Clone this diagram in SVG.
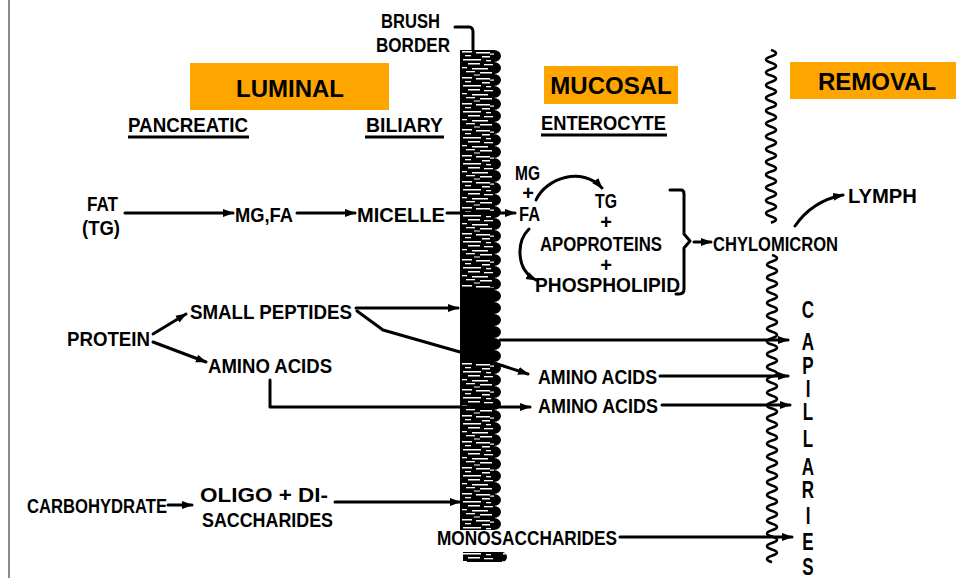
<svg xmlns="http://www.w3.org/2000/svg" width="956" height="578" viewBox="0 0 956 578">
<style>
.t{font-family:"Liberation Sans",Arial,sans-serif;font-weight:bold;font-size:20px;fill:#000}
.h{font-family:"Liberation Sans",Arial,sans-serif;font-weight:bold;font-size:24px;fill:#000;text-anchor:middle}
.c{font-family:"Liberation Sans",Arial,sans-serif;font-weight:bold;font-size:23px;fill:#000;text-anchor:middle}
.ln{fill:none;stroke:#000;stroke-width:3;stroke-linecap:round;stroke-linejoin:round}
.la{fill:none;stroke:#000;stroke-width:3;stroke-linecap:round;stroke-linejoin:round;marker-end:url(#ah)}
.ul{stroke:#000;stroke-width:3}
.box{fill:#FFA500}
.wave{fill:none;stroke:#000;stroke-width:2.6}
.w{fill:#fff}
</style>
<defs>
<marker id="ah" markerUnits="userSpaceOnUse" markerWidth="12" markerHeight="9" refX="10" refY="4.5" orient="auto">
<path d="M0,0.5 L11,4.5 L0,8.5 Z" fill="#000"/>
</marker>
<pattern id="tex" patternUnits="userSpaceOnUse" x="460" y="50" width="40" height="26">
<rect class="w" x="2" y="1" width="10" height="1.5"/>
<rect class="w" x="16" y="2" width="14" height="1.5"/>
<rect class="w" x="30" y="3.5" width="4" height="1.2"/>
<rect class="w" x="5" y="5" width="6" height="1.3"/>
<rect class="w" x="22" y="6" width="8" height="1.5"/>
<rect class="w" x="3" y="9" width="18" height="1.5"/>
<rect class="w" x="26" y="10" width="5" height="1.3"/>
<rect class="w" x="8" y="13" width="12" height="1.5"/>
<rect class="w" x="24" y="14" width="9" height="1.3"/>
<rect class="w" x="2" y="17" width="5" height="1.3"/>
<rect class="w" x="12" y="18" width="16" height="1.5"/>
<rect class="w" x="6" y="21" width="9" height="1.3"/>
<rect class="w" x="20" y="22" width="12" height="1.5"/>
<rect class="w" x="14" y="24.5" width="6" height="1"/>
</pattern>
<path id="col" d="M460,50 H494 a7 6 0 0 1 0 12 a7 6 0 0 1 0 12 a7 6 0 0 1 0 12 a7 6 0 0 1 0 12 a7 6 0 0 1 0 12 a7 6 0 0 1 0 12 a7 6 0 0 1 0 12 a7 6 0 0 1 0 12 a7 6 0 0 1 0 12 a7 6 0 0 1 0 12 a7 6 0 0 1 0 12 a7 6 0 0 1 0 12 a7 6 0 0 1 0 12 a7 6 0 0 1 0 12 a7 6 0 0 1 0 12 a7 6 0 0 1 0 12 a7 6 0 0 1 0 12 a7 6 0 0 1 0 12 a7 6 0 0 1 0 12 a7 6 0 0 1 0 12 a7 6 0 0 1 0 12 a7 6 0 0 1 0 12 a7 6 0 0 1 0 12 a7 6 0 0 1 0 12 a7 6 0 0 1 0 12 a7 6 0 0 1 0 12 a7 6 0 0 1 0 12 a7 6 0 0 1 0 12 a7 6 0 0 1 0 12 a7 6 0 0 1 0 12 a7 6 0 0 1 0 12 a7 6 0 0 1 0 12 a7 6 0 0 1 0 12 a7 6 0 0 1 0 12 a7 6 0 0 1 0 12 a7 6 0 0 1 0 12 a7 6 0 0 1 0 12 a7 6 0 0 1 0 12 a7 6 0 0 1 0 12 a7 6 0 0 1 0 12 H460 Z M463,552 H502 a5 5 0 0 1 0 10 H463 Z"/>
</defs>
<rect width="956" height="578" fill="#fff"/>
<line x1="9" y1="0" x2="9" y2="578" stroke="#666" stroke-width="1.5"/>

<g id="brush-border">
<use href="#col" fill="#000"/>
<use href="#col" fill="url(#tex)"/>
<rect x="460" y="288" width="34" height="74" fill="#000"/>
<path class="ln" d="M455,27 H469 Q473,27 473,32 V50"/>
<text class="t" x="381" y="28" textLength="59" lengthAdjust="spacingAndGlyphs">BRUSH</text>
<text class="t" x="376" y="52" textLength="74" lengthAdjust="spacingAndGlyphs">BORDER</text>
</g>

<g id="capillary-wall">
<path class="wave" d="M771,50 q10 3.2 0 6.4 t0 6.4 t0 6.4 t0 6.4 t0 6.4 t0 6.4 t0 6.4 t0 6.4 t0 6.4 t0 6.4 t0 6.4 t0 6.4 t0 6.4 t0 6.4 t0 6.4 t0 6.4 t0 6.4 t0 6.4 t0 6.4 t0 6.4 t0 6.4 t0 6.4 t0 6.4 t0 6.4 t0 6.4 t0 6.4 t0 6.4"/>
<path class="wave" d="M772,255 q10 3.2 0 6.4 t0 6.4 t0 6.4 t0 6.4 t0 6.4 t0 6.4 t0 6.4 t0 6.4 t0 6.4 t0 6.4 t0 6.4 t0 6.4 t0 6.4 t0 6.4 t0 6.4 t0 6.4 t0 6.4 t0 6.4 t0 6.4 t0 6.4 t0 6.4 t0 6.4 t0 6.4 t0 6.4 t0 6.4 t0 6.4 t0 6.4 t0 6.4 t0 6.4 t0 6.4 t0 6.4 t0 6.4 t0 6.4 t0 6.4 t0 6.4 t0 6.4 t0 6.4 t0 6.4 t0 6.4 t0 6.4 t0 6.4 t0 6.4 t0 6.4 t0 6.4 t0 6.4 t0 6.4 t0 6.4 t0 6.4"/>
</g>

<g id="headers">
<rect class="box" x="190" y="63" width="199" height="47"/>
<text class="h" x="290" y="97">LUMINAL</text>
<rect class="box" x="544" y="66" width="134" height="38"/>
<text class="h" x="611" y="94">MUCOSAL</text>
<rect class="box" x="790" y="62" width="166" height="37"/>
<text class="h" x="877" y="90">REMOVAL</text>
<text class="t" x="128" y="132" textLength="120" lengthAdjust="spacingAndGlyphs">PANCREATIC</text>
<line class="ul" x1="128" y1="137" x2="249" y2="137"/>
<text class="t" x="366" y="132" textLength="77" lengthAdjust="spacingAndGlyphs">BILIARY</text>
<line class="ul" x1="365" y1="137" x2="444" y2="137"/>
<text class="t" x="541" y="130" textLength="125" lengthAdjust="spacingAndGlyphs">ENTEROCYTE</text>
<line class="ul" x1="541" y1="135" x2="667" y2="135"/>
</g>

<g id="fat">
<text class="t" x="87" y="211" textLength="31" lengthAdjust="spacingAndGlyphs">FAT</text>
<text class="t" x="82" y="235" textLength="38" lengthAdjust="spacingAndGlyphs">(TG)</text>
</g>
<g id="mg-fa"><text class="t" x="235" y="222" textLength="58" lengthAdjust="spacingAndGlyphs">MG,FA</text></g>
<g id="micelle"><text class="t" x="357" y="222" textLength="88" lengthAdjust="spacingAndGlyphs">MICELLE</text></g>
<g id="mg-fa-mucosal">
<text class="t" x="515" y="180" font-size="16" textLength="25" lengthAdjust="spacingAndGlyphs">MG</text>
<text class="t" x="528" y="200" font-size="13" text-anchor="middle">+</text>
<text class="t" x="519" y="221" font-size="18" textLength="21" lengthAdjust="spacingAndGlyphs">FA</text>
</g>
<g id="resynthesis">
<text class="t" x="595" y="208" font-size="18" textLength="22" lengthAdjust="spacingAndGlyphs">TG</text>
<text class="t" x="606" y="229" font-size="13" text-anchor="middle">+</text>
<text class="t" x="540" y="251" font-size="18" textLength="122" lengthAdjust="spacingAndGlyphs">APOPROTEINS</text>
<text class="t" x="606" y="272" font-size="12" text-anchor="middle">+</text>
<text class="t" x="535" y="292" textLength="145" lengthAdjust="spacingAndGlyphs">PHOSPHOLIPID</text>
</g>
<g id="chylomicron"><text class="t" x="713" y="251" textLength="125" lengthAdjust="spacingAndGlyphs">CHYLOMICRON</text></g>
<g id="lymph"><text class="t" x="848" y="203" textLength="69" lengthAdjust="spacingAndGlyphs">LYMPH</text></g>

<g id="protein"><text class="t" x="67" y="346" textLength="83" lengthAdjust="spacingAndGlyphs">PROTEIN</text></g>
<g id="small-peptides"><text class="t" x="190" y="319" textLength="162" lengthAdjust="spacingAndGlyphs">SMALL PEPTIDES</text></g>
<g id="amino-acids-luminal"><text class="t" x="208" y="373" textLength="124" lengthAdjust="spacingAndGlyphs">AMINO ACIDS</text></g>
<g id="amino-acids-mucosal-1"><text class="t" x="538" y="384" textLength="119" lengthAdjust="spacingAndGlyphs">AMINO ACIDS</text></g>
<g id="amino-acids-mucosal-2"><text class="t" x="538" y="413" textLength="120" lengthAdjust="spacingAndGlyphs">AMINO ACIDS</text></g>

<g id="carbohydrate"><text class="t" x="27" y="513" textLength="140" lengthAdjust="spacingAndGlyphs">CARBOHYDRATE</text></g>
<g id="oligo-di">
<text class="t" x="200" y="502" textLength="128" lengthAdjust="spacingAndGlyphs">OLIGO + DI-</text>
<text class="t" x="202" y="527" textLength="131" lengthAdjust="spacingAndGlyphs">SACCHARIDES</text>
</g>
<g id="monosaccharides"><text class="t" x="437" y="545" textLength="180" lengthAdjust="spacingAndGlyphs">MONOSACCHARIDES</text></g>

<g id="capillaries" transform="translate(808,0) scale(0.74,1)">
<text class="c" x="0" y="318">C</text>
<text class="c" x="0" y="350">A</text>
<text class="c" x="0" y="374">P</text>
<text class="c" x="0" y="397">I</text>
<text class="c" x="0" y="420">L</text>
<text class="c" x="0" y="447">L</text>
<text class="c" x="0" y="475">A</text>
<text class="c" x="0" y="498">R</text>
<text class="c" x="0" y="524">I</text>
<text class="c" x="0" y="550">E</text>
<text class="c" x="0" y="575">S</text>
</g>

<g id="connectors">
<path class="la" d="M125,213 H233"/>
<path class="la" d="M297,213 H355"/>
<path class="la" d="M447,213 H515"/>
<path class="la" d="M536,200 C546,178 582,166 602,188"/>
<path class="la" d="M529,229 C516,242 516,270 536,280"/>
<path class="ln" d="M670,190 H681 Q684,190 684,194 V234 L690,241 L684,248 V289 Q684,294 679,294 H676"/>
<path class="la" d="M694,242 H711"/>
<path class="la" d="M795,226 C806,210 822,199 843,195"/>
<path class="la" d="M153,334 L186,314"/>
<path class="la" d="M153,342 L206,362"/>
<path class="la" d="M356,308 H458"/>
<path class="la" d="M500,340 H788"/>
<path class="la" d="M357,311 L383,330 L460,352 L528,374"/>
<path class="la" d="M660,376 H788"/>
<path class="la" d="M270,380 V407 H530"/>
<path class="la" d="M662,405 H790"/>
<path class="la" d="M168,505 H192"/>
<path class="la" d="M335,502 H460"/>
<path class="la" d="M620,537 H792"/>
</g>
</svg>
